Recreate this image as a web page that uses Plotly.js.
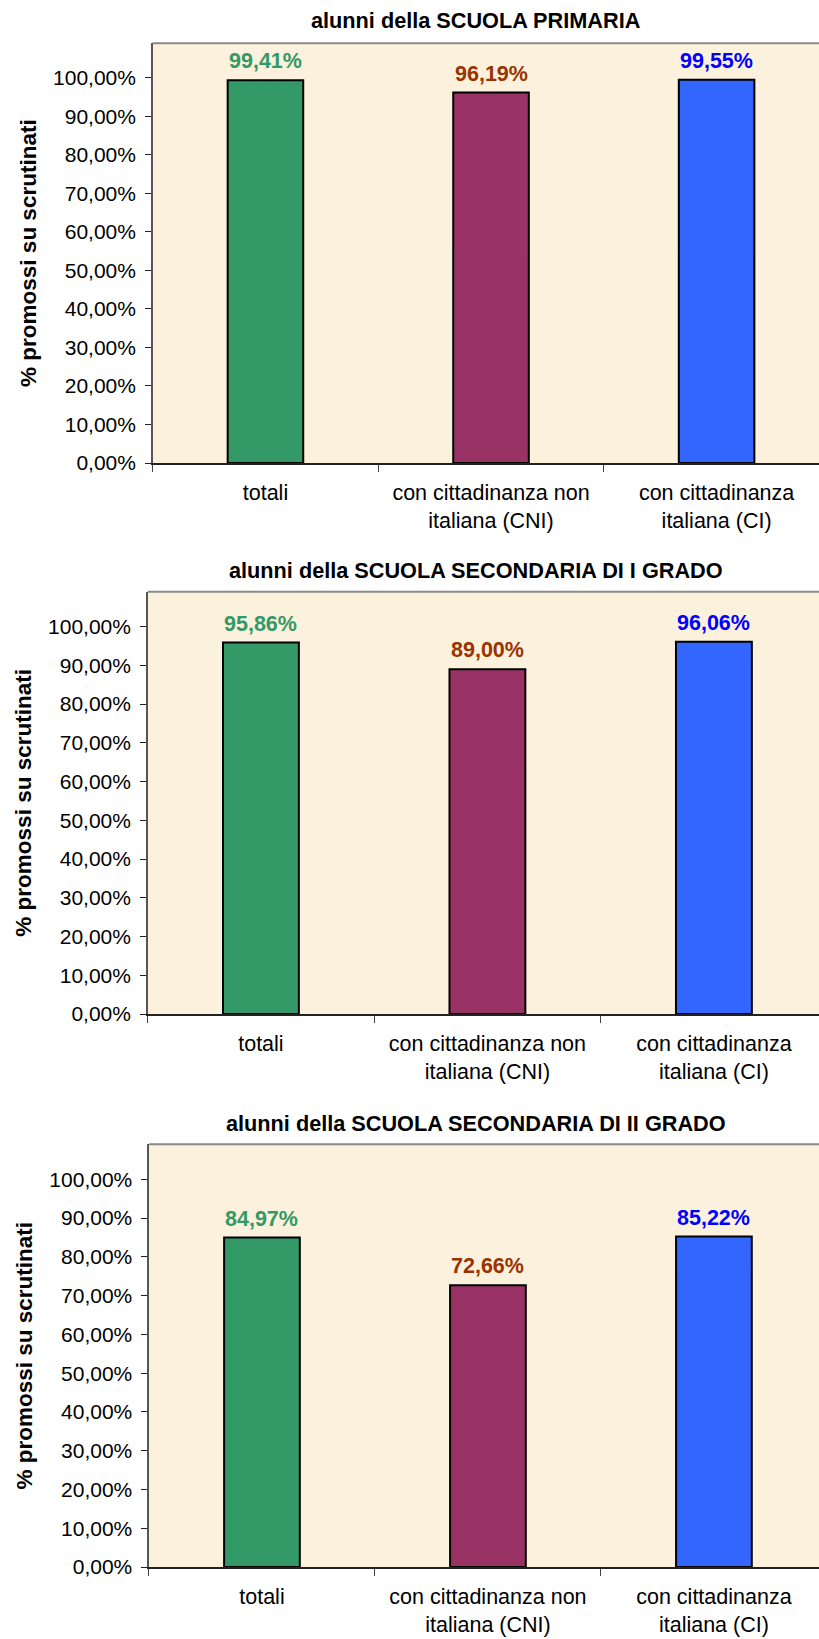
<!DOCTYPE html>
<html>
<head>
<meta charset="utf-8">
<script src="https://cdn.plot.ly/plotly-3.0.1.min.js"></script>
<style>
  html, body { margin: 0; padding: 0; background: #ffffff; overflow: hidden; }
  #chart { width: 819px; height: 1639px; }
</style>
</head>
<body>
<div id="chart"></div>
<script>
// ---- data ----
const categories = ['totali', 'con cittadinanza non<br>italiana (CNI)', 'con cittadinanza<br>italiana (CI)'];
const primaria = [99.41, 96.19, 99.55];
const secondariaPrimoGrado = [95.86, 89.00, 96.06];
const secondariaSecondoGrado = [84.97, 72.66, 85.22];
const chartTitles = [
  'alunni della SCUOLA PRIMARIA',
  'alunni della SCUOLA SECONDARIA DI I GRADO',
  'alunni della SCUOLA SECONDARIA DI II GRADO'
];
const yAxisTitle = '% promossi su scrutinati';

// ---- styles ----
const barColors = ['#339966', '#993366', '#3366FF'];
const labelColors = ['#339966', '#993300', '#0000FF'];
const FONT = 'Liberation Sans, Arial, Helvetica, sans-serif';
const series = [primaria, secondariaPrimoGrado, secondariaSecondoGrado];

const xDomains = [[0.1864, 1], [0.1803, 1], [0.1819, 1]];
const xRangeMax = [2.454, 2.464, 2.465];
const yDomains = [[0.7175, 0.9736], [0.3813, 0.6390], [0.0439, 0.3018]];
const titleY = [0.9872, 0.6522, 0.3148];

const fmt = v => v.toFixed(2).replace('.', ',') + '%';

const traces = [];
const annotations = [];
const shapes = [];
const layout = {
  width: 819, height: 1639,
  margin: {l: 0, r: 0, t: 0, b: 0},
  paper_bgcolor: '#ffffff',
  plot_bgcolor: '#fcf1dc',
  showlegend: false,
  separators: ', ',
  bargap: 0.665,
  font: {family: FONT, size: 21, color: '#000000'}
};

series.forEach((vals, i) => {
  const n = i === 0 ? '' : String(i + 1);
  const xa = 'x' + n, ya = 'y' + n;
  traces.push({
    type: 'bar',
    x: categories,
    y: vals,
    xaxis: xa, yaxis: ya,
    marker: {color: barColors, line: {color: '#000000', width: 2}},
    hoverinfo: 'skip'
  });
  layout['xaxis' + n] = {
    domain: xDomains[i], anchor: ya,
    type: 'category',
    range: [-0.5, xRangeMax[i]],
    showgrid: false, zeroline: false,
    showline: true, linecolor: '#222222', linewidth: 1.5,
    ticks: 'outside', tickson: 'boundaries', ticklen: 7, tickcolor: '#444444', tickwidth: 1,
    tickfont: {family: FONT, size: 21.5, color: '#000000'},
    ticklabelstandoff: 10,
    fixedrange: true
  };
  layout['yaxis' + n] = {
    domain: yDomains[i], anchor: xa,
    range: [0, 109],
    dtick: 10, tick0: 0,
    tickformat: '.2f', ticksuffix: '%',
    showgrid: false, zeroline: false,
    showline: true, linecolor: '#555555', linewidth: 1.5,
    ticks: 'outside', ticklen: 6, tickcolor: '#222222', tickwidth: 1,
    tickfont: {family: FONT, size: 21, color: '#000000'},
    ticklabelstandoff: 5,
    title: {text: yAxisTitle, font: {family: FONT, size: 22.5, weight: 'bold', color: '#000000'}, standoff: 10},
    fixedrange: true
  };
  shapes.push({
    type: 'line', xref: xa + ' domain', yref: ya + ' domain',
    x0: 0, x1: 1, y0: 1, y1: 1,
    line: {color: '#8a8a8a', width: 2}
  });
  annotations.push({
    xref: 'paper', yref: 'paper', x: 0.581, y: titleY[i],
    xanchor: 'center', yanchor: 'middle', showarrow: false,
    text: chartTitles[i],
    font: {family: FONT, size: 21.7, weight: 'bold', color: '#000000'}
  });
  vals.forEach((v, j) => {
    annotations.push({
      xref: xa, yref: ya, x: categories[j], y: v,
      xanchor: 'center', yanchor: 'bottom', yshift: 5, showarrow: false,
      text: fmt(v),
      font: {family: FONT, size: 21.5, weight: 'bold', color: labelColors[j]}
    });
  });
});

layout.annotations = annotations;
layout.shapes = shapes;

Plotly.newPlot('chart', traces, layout, {staticPlot: true, displayModeBar: false});
</script>
</body>
</html>
